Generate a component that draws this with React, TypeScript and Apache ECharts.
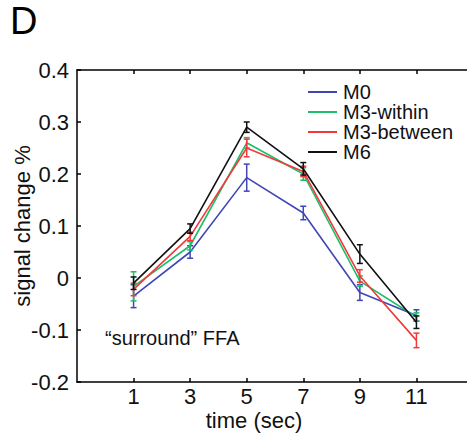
import React, { useEffect, useRef } from "react";
import * as echarts from "echarts";

const times = [1, 3, 5, 7, 9, 11];
const xTicks = [1, 3, 5, 7, 9, 11];
const seriesNames = ["M0", "M3-within", "M3-between", "M6"];
const seriesColors = ["#4046b4", "#1dbd6c", "#f03a3a", "#111111"];
const m0 = [-0.035, 0.05, 0.193, 0.125, -0.028, -0.072];
const m0Err = [0.022, 0.012, 0.026, 0.013, 0.015, 0.011];
const m3within = [-0.016, 0.062, 0.26, 0.2, -0.006, -0.075];
const m3withinErr = [0.028, 0.008, 0.01, 0.012, 0.01, 0.008];
const m3between = [-0.022, 0.08, 0.25, 0.205, 0.004, -0.12];
const m3betweenErr = [0.012, 0.008, 0.017, 0.01, 0.012, 0.014];
const m6 = [-0.01, 0.095, 0.29, 0.21, 0.046, -0.085];
const m6Err = [0.012, 0.009, 0.01, 0.012, 0.018, 0.012];
const annotation = "\u201Csurround\u201D FFA";
const panelLabel = "D";

const FONT = "'Liberation Sans', Arial, Helvetica, sans-serif";

export default function App() {
  const ref = useRef<HTMLDivElement>(null);
  useEffect(() => {
    document.body.style.margin = "0";
    if (!ref.current) return;
    const chart = echarts.init(ref.current, undefined, { renderer: "svg" });
    const values = [m0, m3within, m3between, m6];
    const errs = [m0Err, m3withinErr, m3betweenErr, m6Err];

    const lineSeries: any[] = [];
    const errSeries: any[] = [];
    values.forEach((vals, i) => {
      const color = seriesColors[i];
      lineSeries.push({
        name: seriesNames[i],
        type: "line",
        data: times.map((t, j) => [t, vals[j]]),
        showSymbol: false,
        symbol: "none",
        lineStyle: { color, width: 1.6 },
        itemStyle: { color },
        z: 3 + i,
      });
      errSeries.push({
        name: seriesNames[i] + " error",
        type: "custom",
        data: times.map((t, j) => [t, vals[j] - errs[i][j], vals[j] + errs[i][j]]),
        z: 3 + i,
        renderItem: (params: any, api: any) => {
          const x = api.value(0);
          const lo = api.coord([x, api.value(1)]);
          const hi = api.coord([x, api.value(2)]);
          const hw = 3;
          const style = { stroke: color, lineWidth: 1.5 };
          return {
            type: "group",
            children: [
              { type: "line", shape: { x1: lo[0], y1: lo[1], x2: hi[0], y2: hi[1] }, style },
              { type: "line", shape: { x1: lo[0] - hw, y1: lo[1], x2: lo[0] + hw, y2: lo[1] }, style },
              { type: "line", shape: { x1: hi[0] - hw, y1: hi[1], x2: hi[0] + hw, y2: hi[1] }, style },
            ],
          };
        },
      });
    });

    const axisLineStyle = { color: "#000", width: 1.5 };

    chart.setOption({
      animation: false,
      textStyle: { fontFamily: FONT },
      grid: {
        left: 77,
        top: 70,
        bottom: 55,
        right: -6,
        show: false,
        containLabel: false,
        outerBoundsMode: "none",
      },
      legend: {
        data: seriesNames,
        orient: "vertical",
        left: 303,
        top: 77,
        itemGap: 0,
        itemWidth: 29,
        itemHeight: 2,
        icon: "rect",
        textStyle: { fontFamily: FONT, fontSize: 20, lineHeight: 19.5, color: "#111", padding: [0, 0, 0, 1] },
      },
      xAxis: [
        {
          type: "value",
          min: -1,
          max: 13,
          position: "bottom",
          name: "time (sec)",
          nameLocation: "middle",
          nameGap: 27,
          nameMoveOverlap: false,
          nameTextStyle: { fontFamily: FONT, fontSize: 22, color: "#111", padding: [0, 42, 0, 0] },
          axisLine: { show: true, onZero: false, lineStyle: axisLineStyle },
          axisTick: { show: true, inside: true, length: 4, customValues: xTicks, lineStyle: axisLineStyle },
          axisLabel: { show: true, customValues: xTicks, fontFamily: FONT, fontSize: 22, color: "#111", margin: 3 },
          splitLine: { show: false },
        },
        {
          type: "value",
          min: -1,
          max: 13,
          position: "top",
          axisLine: { show: true, onZero: false, lineStyle: axisLineStyle },
          axisTick: { show: true, inside: true, length: 4, customValues: xTicks, lineStyle: axisLineStyle },
          axisLabel: { show: false },
          splitLine: { show: false },
        },
      ],
      yAxis: {
        type: "value",
        min: -0.2,
        max: 0.4,
        interval: 0.1,
        name: "signal change %",
        nameLocation: "middle",
        nameGap: 44,
        nameMoveOverlap: false,
        nameTextStyle: { fontFamily: FONT, fontSize: 22, color: "#111" },
        axisLine: { show: true, onZero: false, lineStyle: axisLineStyle },
        axisTick: { show: true, inside: true, length: 4, lineStyle: axisLineStyle },
        axisLabel: {
          fontFamily: FONT,
          fontSize: 22,
          color: "#111",
          margin: 8,
          formatter: (v: number) => {
            const r = Math.round(v * 10) / 10;
            return r === 0 ? "0" : r.toFixed(1);
          },
        },
        splitLine: { show: false },
      },
      graphic: [
        {
          type: "text",
          left: 105,
          top: 328,
          style: { text: annotation, font: `20px ${FONT}`, fill: "#111" },
        },
        {
          type: "text",
          left: 10,
          top: 2,
          style: { text: panelLabel, font: `38px ${FONT}`, fill: "#000" },
        },
      ],
      series: [...errSeries, ...lineSeries],
    });
    return () => chart.dispose();
  }, []);
  return <div ref={ref} style={{ width: 467, height: 437 }} />;
}
